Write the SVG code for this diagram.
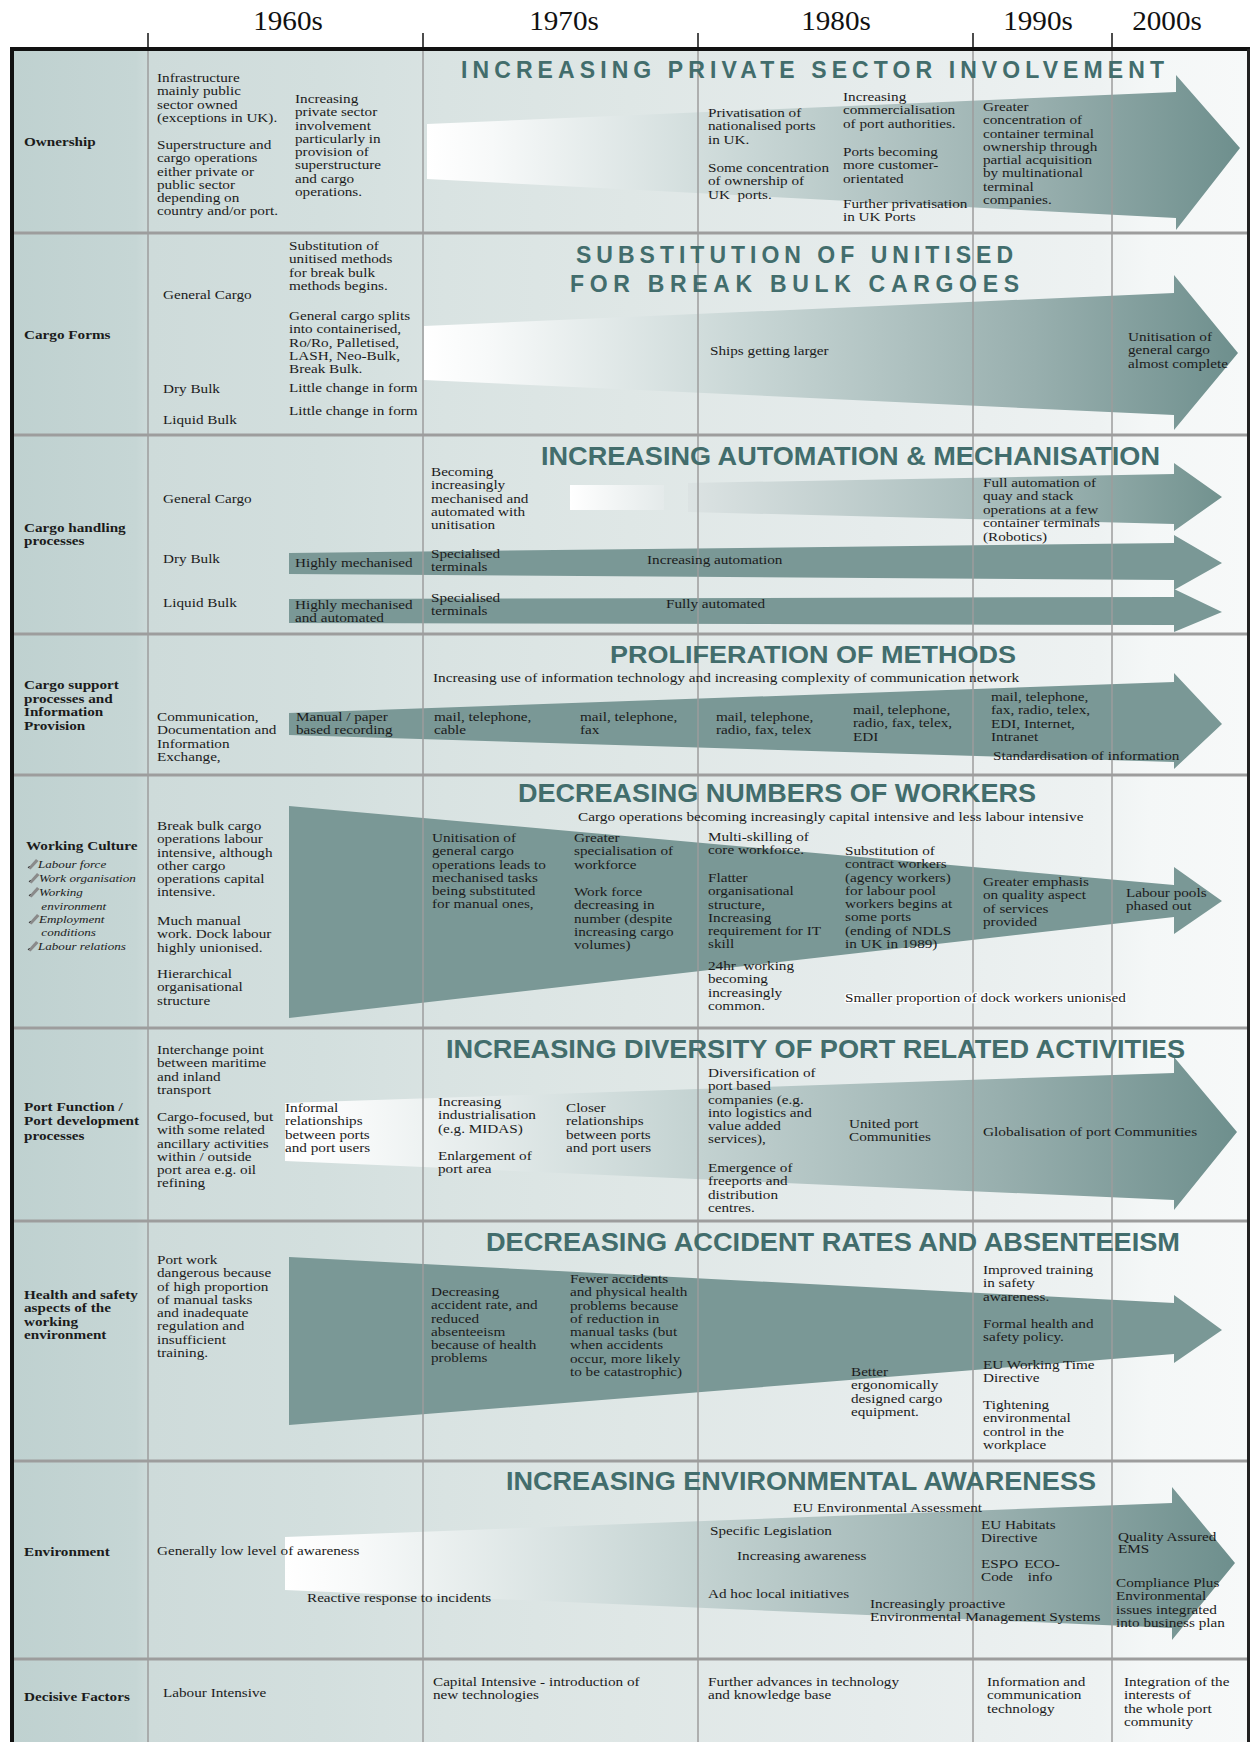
<svg xmlns="http://www.w3.org/2000/svg" width="1250" height="1742" viewBox="0 0 1250 1742">
<defs>
<style>
.t{font-family:"Liberation Serif","Times New Roman",serif;font-size:13px;fill:#1b1b1b}
.b{font-weight:bold}
.i{font-style:italic;font-size:11.2px}
.h{font-family:"Liberation Sans",Arial,sans-serif;font-weight:bold;fill:#426d6c}
.yr{font-family:"Liberation Serif","Times New Roman",serif;font-size:27px;fill:#111}
.grid{stroke:#9c9c9c;stroke-width:1.5}
.tick{stroke:#111;stroke-width:1.5}
.sep{stroke:#9d9d9d;stroke-width:3}
.solid{fill:#7a9896}
.fade{fill:url(#gfade)}
.halo{stroke:#ffffff;stroke-width:2.5;paint-order:stroke;stroke-linejoin:round}
</style>
<linearGradient id="bg" gradientUnits="userSpaceOnUse" x1="12" y1="0" x2="1248" y2="0">
<stop offset="0" stop-color="#bfd1d0"/>
<stop offset="0.1" stop-color="#c6d6d5"/>
<stop offset="0.112" stop-color="#cedbda"/>
<stop offset="0.25" stop-color="#d3dfde"/>
<stop offset="0.35" stop-color="#d9e3e2"/>
<stop offset="0.5" stop-color="#dfe7e6"/>
<stop offset="0.7" stop-color="#e6ecec"/>
<stop offset="0.88" stop-color="#eef2f2"/>
<stop offset="0.92" stop-color="#f4f7f7"/>
<stop offset="1" stop-color="#f7f9f9"/>
</linearGradient>
<linearGradient id="gfade" x1="0" y1="0" x2="1" y2="0">
<stop offset="0" stop-color="#ffffff"/>
<stop offset="0.08" stop-color="#f7f9f9"/>
<stop offset="0.4" stop-color="#c8d6d5"/>
<stop offset="0.75" stop-color="#98afae"/>
<stop offset="1" stop-color="#6e8f8d"/>
</linearGradient>
<linearGradient id="gfade2" x1="0" y1="0" x2="1" y2="0">
<stop offset="0" stop-color="#dce3e3"/>
<stop offset="0.6" stop-color="#a5bab9"/>
<stop offset="1" stop-color="#72928f"/>
</linearGradient>
<linearGradient id="gblock" x1="0" y1="0" x2="1" y2="0">
<stop offset="0" stop-color="#ffffff"/>
<stop offset="1" stop-color="#e4eaea"/>
</linearGradient>
<g id="pen"><path d="M0 0 L8 -9 L10.5 -7 L2.5 1.5 Z" fill="#8a8a8a"/><path d="M0 0 L1.5 -2" stroke="#333" stroke-width="1"/></g>
</defs>

<rect x="0" y="0" width="1250" height="1742" fill="#ffffff"/>
<rect id="background" x="12" y="50" width="1236" height="1692" fill="url(#bg)"/>

<g id="arrows">
<polygon class="fade" points="427,124 1176,92 1176,75 1240,148 1176,230 1176,218 427,179"/>
<polygon class="fade" points="424,326 1174,293 1174,275 1238,353 1174,430 1174,415 424,380"/>
<rect x="570" y="485" width="94" height="25" fill="url(#gblock)"/>
<polygon fill="url(#gfade2)" points="688,483 1174,474 1174,463 1222,497 1174,531 1174,524 688,512"/>
<polygon class="solid" points="289,553 1174,543 1174,535 1222,563 1174,590 1174,580 289,574"/>
<polygon class="solid" points="289,599 1174,597 1174,589 1222,612 1174,632 1174,625 289,623"/>
<polygon class="solid" points="289,713 1174,682 1174,673 1222,724 1174,769 1174,762 289,735"/>
<polygon class="solid" points="289,806 1174,885 1174,867 1222,901 1174,934 1174,917 289,1018"/>
<polygon class="fade" points="285,1103 1174,1073 1174,1057 1237,1132 1174,1210 1174,1200 285,1161"/>
<polygon class="solid" points="289,1257 1174,1303 1174,1295 1222,1330 1174,1363 1174,1354 289,1425"/>
<polygon class="fade" points="285,1537 1172,1503 1172,1487 1235,1563 1172,1640 1172,1628 285,1590"/>
</g>

<g id="grid">
<line class="tick" x1="148" y1="33" x2="148" y2="50"/>
<line class="tick" x1="423" y1="33" x2="423" y2="50"/>
<line class="tick" x1="698" y1="33" x2="698" y2="50"/>
<line class="tick" x1="973" y1="33" x2="973" y2="50"/>
<line class="tick" x1="1112" y1="33" x2="1112" y2="50"/>
<line class="grid" x1="148" y1="50" x2="148" y2="1742"/>
<line class="grid" x1="423" y1="50" x2="423" y2="1742"/>
<line class="grid" x1="698" y1="50" x2="698" y2="1742"/>
<line class="grid" x1="973" y1="50" x2="973" y2="1742"/>
<line class="grid" x1="1112" y1="50" x2="1112" y2="1742"/>
<line class="sep" x1="12" y1="233" x2="1248" y2="233"/>
<line class="sep" x1="12" y1="435" x2="1248" y2="435"/>
<line class="sep" x1="12" y1="634" x2="1248" y2="634"/>
<line class="sep" x1="12" y1="775" x2="1248" y2="775"/>
<line class="sep" x1="12" y1="1028" x2="1248" y2="1028"/>
<line class="sep" x1="12" y1="1221" x2="1248" y2="1221"/>
<line class="sep" x1="12" y1="1461" x2="1248" y2="1461"/>
<line class="sep" x1="12" y1="1659" x2="1248" y2="1659"/>
<line x1="10" y1="49" x2="1250" y2="49" stroke="#111" stroke-width="4"/>
<line x1="12" y1="47" x2="12" y2="1742" stroke="#111" stroke-width="4"/>
<line x1="1248.5" y1="49" x2="1248.5" y2="1742" stroke="#222" stroke-width="3"/>
</g>

<g id="header">
<g transform="translate(288 30) scale(1.08 1)"><text class="yr" text-anchor="middle" x="0" y="0">1960s</text></g>
<g transform="translate(564 30) scale(1.08 1)"><text class="yr" text-anchor="middle" x="0" y="0">1970s</text></g>
<g transform="translate(836 30) scale(1.08 1)"><text class="yr" text-anchor="middle" x="0" y="0">1980s</text></g>
<g transform="translate(1038 30) scale(1.08 1)"><text class="yr" text-anchor="middle" x="0" y="0">1990s</text></g>
<g transform="translate(1167 30) scale(1.08 1)"><text class="yr" text-anchor="middle" x="0" y="0">2000s</text></g>
</g>

<g id="row-ownership">
<text class="h" x="461" y="78" font-size="23" textLength="703" lengthAdjust="spacing">INCREASING PRIVATE SECTOR INVOLVEMENT</text>
<g transform="translate(24 146) scale(1.17 1)"><text class="t b">Ownership</text></g>
<g transform="translate(157 82) scale(1.17 1)"><text class="t"><tspan x="0" y="0">Infrastructure</tspan><tspan x="0" y="13.3">mainly public</tspan><tspan x="0" y="26.6">sector owned</tspan><tspan x="0" y="39.9">(exceptions in UK).</tspan></text></g>
<g transform="translate(157 149) scale(1.17 1)"><text class="t"><tspan x="0" y="0">Superstructure and</tspan><tspan x="0" y="13.3">cargo operations</tspan><tspan x="0" y="26.6">either private or</tspan><tspan x="0" y="39.9">public sector</tspan><tspan x="0" y="53.2">depending on</tspan><tspan x="0" y="66.5">country and/or port.</tspan></text></g>
<g transform="translate(295 103) scale(1.17 1)"><text class="t"><tspan x="0" y="0">Increasing</tspan><tspan x="0" y="13.3">private sector</tspan><tspan x="0" y="26.6">involvement</tspan><tspan x="0" y="39.9">particularly in</tspan><tspan x="0" y="53.2">provision of</tspan><tspan x="0" y="66.5">superstructure</tspan><tspan x="0" y="79.8">and cargo</tspan><tspan x="0" y="93.1">operations.</tspan></text></g>
<g transform="translate(708 117) scale(1.17 1)"><text class="t"><tspan x="0" y="0">Privatisation of</tspan><tspan x="0" y="13.3">nationalised ports</tspan><tspan x="0" y="26.6">in UK.</tspan></text></g>
<g transform="translate(708 172) scale(1.17 1)"><text class="t"><tspan x="0" y="0">Some concentration</tspan><tspan x="0" y="13.3">of ownership of</tspan><tspan x="0" y="26.6">UK&#160; ports.</tspan></text></g>
<g transform="translate(843 101) scale(1.17 1)"><text class="t"><tspan x="0" y="0">Increasing</tspan><tspan x="0" y="13.3">commercialisation</tspan><tspan x="0" y="26.6">of port authorities.</tspan></text></g>
<g transform="translate(843 156) scale(1.17 1)"><text class="t"><tspan x="0" y="0">Ports becoming</tspan><tspan x="0" y="13.3">more customer-</tspan><tspan x="0" y="26.6">orientated</tspan></text></g>
<g transform="translate(843 208) scale(1.17 1)"><text class="t"><tspan x="0" y="0">Further privatisation</tspan><tspan x="0" y="13.3">in UK Ports</tspan></text></g>
<g transform="translate(983 111) scale(1.17 1)"><text class="t"><tspan x="0" y="0">Greater</tspan><tspan x="0" y="13.3">concentration of</tspan><tspan x="0" y="26.6">container terminal</tspan><tspan x="0" y="39.9">ownership through</tspan><tspan x="0" y="53.2">partial acquisition</tspan><tspan x="0" y="66.5">by multinational</tspan><tspan x="0" y="79.8">terminal</tspan><tspan x="0" y="93.1">companies.</tspan></text></g>
</g>

<g id="row-cargo-forms">
<text class="h" x="576" y="263" font-size="23" textLength="437" lengthAdjust="spacing">SUBSTITUTION OF UNITISED</text>
<text class="h" x="570" y="292" font-size="23" textLength="449" lengthAdjust="spacing">FOR BREAK BULK CARGOES</text>
<g transform="translate(24 339) scale(1.17 1)"><text class="t b">Cargo Forms</text></g>
<g transform="translate(163 299) scale(1.17 1)"><text class="t">General Cargo</text></g>
<g transform="translate(163 393) scale(1.17 1)"><text class="t">Dry Bulk</text></g>
<g transform="translate(163 424) scale(1.17 1)"><text class="t">Liquid Bulk</text></g>
<g transform="translate(289 250) scale(1.17 1)"><text class="t"><tspan x="0" y="0">Substitution of</tspan><tspan x="0" y="13.3">unitised methods</tspan><tspan x="0" y="26.6">for break bulk</tspan><tspan x="0" y="39.9">methods begins.</tspan></text></g>
<g transform="translate(289 320) scale(1.17 1)"><text class="t"><tspan x="0" y="0">General cargo splits</tspan><tspan x="0" y="13.3">into containerised,</tspan><tspan x="0" y="26.6">Ro/Ro, Palletised,</tspan><tspan x="0" y="39.9">LASH, Neo-Bulk,</tspan><tspan x="0" y="53.2">Break Bulk.</tspan></text></g>
<g transform="translate(289 392) scale(1.17 1)"><text class="t">Little change in form</text></g>
<g transform="translate(289 415) scale(1.17 1)"><text class="t">Little change in form</text></g>
<g transform="translate(710 355) scale(1.17 1)"><text class="t">Ships getting larger</text></g>
<g transform="translate(1128 341) scale(1.17 1)"><text class="t"><tspan x="0" y="0">Unitisation of</tspan><tspan x="0" y="13.3">general cargo</tspan><tspan x="0" y="26.6">almost complete</tspan></text></g>
</g>

<g id="row-cargo-handling">
<text class="h" x="541" y="465" font-size="25" textLength="619" lengthAdjust="spacingAndGlyphs">INCREASING AUTOMATION &amp; MECHANISATION</text>
<g transform="translate(24 532) scale(1.17 1)"><text class="t b"><tspan x="0" y="0">Cargo handling</tspan><tspan x="0" y="13.3">processes</tspan></text></g>
<g transform="translate(163 503) scale(1.17 1)"><text class="t">General Cargo</text></g>
<g transform="translate(163 563) scale(1.17 1)"><text class="t">Dry Bulk</text></g>
<g transform="translate(163 607) scale(1.17 1)"><text class="t">Liquid Bulk</text></g>
<g transform="translate(431 476) scale(1.17 1)"><text class="t"><tspan x="0" y="0">Becoming</tspan><tspan x="0" y="13.3">increasingly</tspan><tspan x="0" y="26.6">mechanised and</tspan><tspan x="0" y="39.9">automated with</tspan><tspan x="0" y="53.2">unitisation</tspan></text></g>
<g transform="translate(295 567) scale(1.17 1)"><text class="t">Highly mechanised</text></g>
<g transform="translate(295 609) scale(1.17 1)"><text class="t"><tspan x="0" y="0">Highly mechanised</tspan><tspan x="0" y="13">and automated</tspan></text></g>
<g transform="translate(431 558) scale(1.17 1)"><text class="t"><tspan x="0" y="0">Specialised</tspan><tspan x="0" y="13.3">terminals</tspan></text></g>
<g transform="translate(431 602) scale(1.17 1)"><text class="t"><tspan x="0" y="0">Specialised</tspan><tspan x="0" y="13.3">terminals</tspan></text></g>
<g transform="translate(647 564) scale(1.17 1)"><text class="t">Increasing automation</text></g>
<g transform="translate(666 608) scale(1.17 1)"><text class="t">Fully automated</text></g>
<g transform="translate(983 487) scale(1.17 1)"><text class="t"><tspan x="0" y="0">Full automation of</tspan><tspan x="0" y="13.5">quay and stack</tspan><tspan x="0" y="27">operations at a few</tspan><tspan x="0" y="40.5">container terminals</tspan><tspan x="0" y="54">(Robotics)</tspan></text></g>
</g>

<g id="row-cargo-support">
<text class="h" x="610" y="663" font-size="24" textLength="406" lengthAdjust="spacingAndGlyphs">PROLIFERATION OF METHODS</text>
<g transform="translate(433 682) scale(1.17 1)"><text class="t" textLength="501" lengthAdjust="spacingAndGlyphs">Increasing use of information technology and increasing complexity of communication network</text></g>
<g transform="translate(24 689) scale(1.17 1)"><text class="t b"><tspan x="0" y="0">Cargo support</tspan><tspan x="0" y="13.6">processes and</tspan><tspan x="0" y="27.2">Information</tspan><tspan x="0" y="40.8">Provision</tspan></text></g>
<g transform="translate(157 721) scale(1.17 1)"><text class="t"><tspan x="0" y="0">Communication,</tspan><tspan x="0" y="13.3">Documentation and</tspan><tspan x="0" y="26.6">Information</tspan><tspan x="0" y="39.9">Exchange,</tspan></text></g>
<g transform="translate(296 721) scale(1.17 1)"><text class="t"><tspan x="0" y="0">Manual / paper</tspan><tspan x="0" y="13.3">based recording</tspan></text></g>
<g transform="translate(434 721) scale(1.17 1)"><text class="t"><tspan x="0" y="0">mail, telephone,</tspan><tspan x="0" y="13.3">cable</tspan></text></g>
<g transform="translate(580 721) scale(1.17 1)"><text class="t"><tspan x="0" y="0">mail, telephone,</tspan><tspan x="0" y="13.3">fax</tspan></text></g>
<g transform="translate(716 721) scale(1.17 1)"><text class="t"><tspan x="0" y="0">mail, telephone,</tspan><tspan x="0" y="13.3">radio, fax, telex</tspan></text></g>
<g transform="translate(853 714) scale(1.17 1)"><text class="t"><tspan x="0" y="0">mail, telephone,</tspan><tspan x="0" y="13.3">radio, fax, telex,</tspan><tspan x="0" y="26.6">EDI</tspan></text></g>
<g transform="translate(991 701) scale(1.17 1)"><text class="t"><tspan x="0" y="0">mail, telephone,</tspan><tspan x="0" y="13.3">fax, radio, telex,</tspan><tspan x="0" y="26.6">EDI, Internet,</tspan><tspan x="0" y="39.9">Intranet</tspan></text></g>
<g transform="translate(993 760) scale(1.17 1)"><text class="t">Standardisation of information</text></g>
</g>

<g id="row-working-culture">
<text class="h" x="518" y="802" font-size="25" textLength="518" lengthAdjust="spacingAndGlyphs">DECREASING NUMBERS OF WORKERS</text>
<g transform="translate(578 821) scale(1.17 1)"><text class="t" textLength="432" lengthAdjust="spacingAndGlyphs">Cargo operations becoming increasingly capital intensive and less labour intensive</text></g>
<g transform="translate(26 850) scale(1.17 1)"><text class="t b">Working Culture</text></g>
<use href="#pen" transform="translate(28 868)"/>
<use href="#pen" transform="translate(29 882)"/>
<use href="#pen" transform="translate(29 896)"/>
<use href="#pen" transform="translate(29 923)"/>
<use href="#pen" transform="translate(28 950)"/>
<g transform="translate(38 868) scale(1.17 1)"><text class="t i">Labour force</text></g>
<g transform="translate(39 882) scale(1.17 1)"><text class="t i">Work organisation</text></g>
<g transform="translate(39 896) scale(1.17 1)"><text class="t i"><tspan x="0" y="0">Working</tspan><tspan x="2" y="14">environment</tspan></text></g>
<g transform="translate(39 923) scale(1.17 1)"><text class="t i"><tspan x="0" y="0">Employment</tspan><tspan x="2" y="13">conditions</tspan></text></g>
<g transform="translate(38 950) scale(1.17 1)"><text class="t i">Labour relations</text></g>
<g transform="translate(157 830) scale(1.17 1)"><text class="t"><tspan x="0" y="0">Break bulk cargo</tspan><tspan x="0" y="13.3">operations labour</tspan><tspan x="0" y="26.6">intensive, although</tspan><tspan x="0" y="39.9">other cargo</tspan><tspan x="0" y="53.2">operations capital</tspan><tspan x="0" y="66.5">intensive.</tspan></text></g>
<g transform="translate(157 925) scale(1.17 1)"><text class="t"><tspan x="0" y="0">Much manual</tspan><tspan x="0" y="13.3">work. Dock labour</tspan><tspan x="0" y="26.6">highly unionised.</tspan></text></g>
<g transform="translate(157 978) scale(1.17 1)"><text class="t"><tspan x="0" y="0">Hierarchical</tspan><tspan x="0" y="13.3">organisational</tspan><tspan x="0" y="26.6">structure</tspan></text></g>
<g transform="translate(432 842) scale(1.17 1)"><text class="t"><tspan x="0" y="0">Unitisation of</tspan><tspan x="0" y="13.3">general cargo</tspan><tspan x="0" y="26.6">operations leads to</tspan><tspan x="0" y="39.9">mechanised tasks</tspan><tspan x="0" y="53.2">being substituted</tspan><tspan x="0" y="66.5">for manual ones,</tspan></text></g>
<g transform="translate(574 842) scale(1.17 1)"><text class="t"><tspan x="0" y="0">Greater</tspan><tspan x="0" y="13.3">specialisation of</tspan><tspan x="0" y="26.6">workforce</tspan></text></g>
<g transform="translate(574 896) scale(1.17 1)"><text class="t"><tspan x="0" y="0">Work force</tspan><tspan x="0" y="13.3">decreasing in</tspan><tspan x="0" y="26.6">number (despite</tspan><tspan x="0" y="39.9">increasing cargo</tspan><tspan x="0" y="53.2">volumes)</tspan></text></g>
<g transform="translate(708 841) scale(1.17 1)"><text class="t"><tspan x="0" y="0">Multi-skilling of</tspan><tspan x="0" y="13.3">core workforce.</tspan></text></g>
<g transform="translate(708 882) scale(1.17 1)"><text class="t"><tspan x="0" y="0">Flatter</tspan><tspan x="0" y="13.3">organisational</tspan><tspan x="0" y="26.6">structure,</tspan><tspan x="0" y="39.9">Increasing</tspan><tspan x="0" y="53.2">requirement for IT</tspan><tspan x="0" y="66.5">skill</tspan></text></g>
<g transform="translate(708 970) scale(1.17 1)"><text class="t"><tspan x="0" y="0">24hr&#160; working</tspan><tspan x="0" y="13.3">becoming</tspan><tspan x="0" y="26.6">increasingly</tspan><tspan x="0" y="39.9">common.</tspan></text></g>
<g transform="translate(845 855) scale(1.17 1)"><text class="t"><tspan x="0" y="0">Substitution of</tspan><tspan x="0" y="13.3">contract workers</tspan><tspan x="0" y="26.6">(agency workers)</tspan><tspan x="0" y="39.9">for labour pool</tspan><tspan x="0" y="53.2">workers begins at</tspan><tspan x="0" y="66.5">some ports</tspan><tspan x="0" y="79.8">(ending of NDLS</tspan><tspan x="0" y="93.1">in UK in 1989)</tspan></text></g>
<g transform="translate(845 1002) scale(1.17 1)"><text class="t halo" textLength="240" lengthAdjust="spacingAndGlyphs">Smaller proportion of dock workers unionised</text></g>
<g transform="translate(983 886) scale(1.17 1)"><text class="t"><tspan x="0" y="0">Greater emphasis</tspan><tspan x="0" y="13.3">on quality aspect</tspan><tspan x="0" y="26.6">of services</tspan><tspan x="0" y="39.9">provided</tspan></text></g>
<g transform="translate(1126 897) scale(1.17 1)"><text class="t"><tspan x="0" y="0">Labour pools</tspan><tspan x="0" y="13.3">phased out</tspan></text></g>
</g>

<g id="row-port-function">
<text class="h" x="446" y="1058" font-size="25" textLength="739" lengthAdjust="spacingAndGlyphs">INCREASING DIVERSITY OF PORT RELATED ACTIVITIES</text>
<g transform="translate(24 1111) scale(1.17 1)"><text class="t b"><tspan x="0" y="0">Port Function /</tspan><tspan x="0" y="14.5">Port development</tspan><tspan x="0" y="29">processes</tspan></text></g>
<g transform="translate(157 1054) scale(1.17 1)"><text class="t"><tspan x="0" y="0">Interchange point</tspan><tspan x="0" y="13.3">between maritime</tspan><tspan x="0" y="26.6">and inland</tspan><tspan x="0" y="39.9">transport</tspan></text></g>
<g transform="translate(157 1121) scale(1.17 1)"><text class="t"><tspan x="0" y="0">Cargo-focused, but</tspan><tspan x="0" y="13.3">with some related</tspan><tspan x="0" y="26.6">ancillary activities</tspan><tspan x="0" y="39.9">within / outside</tspan><tspan x="0" y="53.2">port area e.g. oil</tspan><tspan x="0" y="66.5">refining</tspan></text></g>
<g transform="translate(285 1112) scale(1.17 1)"><text class="t"><tspan x="0" y="0">Informal</tspan><tspan x="0" y="13.3">relationships</tspan><tspan x="0" y="26.6">between ports</tspan><tspan x="0" y="39.9">and port users</tspan></text></g>
<g transform="translate(438 1106) scale(1.17 1)"><text class="t"><tspan x="0" y="0">Increasing</tspan><tspan x="0" y="13.3">industrialisation</tspan><tspan x="0" y="26.6">(e.g. MIDAS)</tspan></text></g>
<g transform="translate(438 1160) scale(1.17 1)"><text class="t"><tspan x="0" y="0">Enlargement of</tspan><tspan x="0" y="13.3">port area</tspan></text></g>
<g transform="translate(566 1112) scale(1.17 1)"><text class="t"><tspan x="0" y="0">Closer</tspan><tspan x="0" y="13.3">relationships</tspan><tspan x="0" y="26.6">between ports</tspan><tspan x="0" y="39.9">and port users</tspan></text></g>
<g transform="translate(708 1077) scale(1.17 1)"><text class="t"><tspan x="0" y="0">Diversification of</tspan><tspan x="0" y="13.3">port based</tspan><tspan x="0" y="26.6">companies (e.g.</tspan><tspan x="0" y="39.9">into logistics and</tspan><tspan x="0" y="53.2">value added</tspan><tspan x="0" y="66.5">services),</tspan></text></g>
<g transform="translate(708 1172) scale(1.17 1)"><text class="t"><tspan x="0" y="0">Emergence of</tspan><tspan x="0" y="13.3">freeports and</tspan><tspan x="0" y="26.6">distribution</tspan><tspan x="0" y="39.9">centres.</tspan></text></g>
<g transform="translate(849 1128) scale(1.17 1)"><text class="t"><tspan x="0" y="0">United port</tspan><tspan x="0" y="13.3">Communities</tspan></text></g>
<g transform="translate(983 1136) scale(1.17 1)"><text class="t" textLength="183" lengthAdjust="spacingAndGlyphs">Globalisation of port Communities</text></g>
</g>

<g id="row-health-safety">
<text class="h" x="486" y="1251" font-size="25" textLength="694" lengthAdjust="spacingAndGlyphs">DECREASING ACCIDENT RATES AND ABSENTEEISM</text>
<g transform="translate(24 1299) scale(1.17 1)"><text class="t b"><tspan x="0" y="0">Health and safety</tspan><tspan x="0" y="13.3">aspects of the</tspan><tspan x="0" y="26.6">working</tspan><tspan x="0" y="39.9">environment</tspan></text></g>
<g transform="translate(157 1264) scale(1.17 1)"><text class="t"><tspan x="0" y="0">Port work</tspan><tspan x="0" y="13.3">dangerous because</tspan><tspan x="0" y="26.6">of high proportion</tspan><tspan x="0" y="39.9">of manual tasks</tspan><tspan x="0" y="53.2">and inadequate</tspan><tspan x="0" y="66.5">regulation and</tspan><tspan x="0" y="79.8">insufficient</tspan><tspan x="0" y="93.1">training.</tspan></text></g>
<g transform="translate(431 1296) scale(1.17 1)"><text class="t"><tspan x="0" y="0">Decreasing</tspan><tspan x="0" y="13.3">accident rate, and</tspan><tspan x="0" y="26.6">reduced</tspan><tspan x="0" y="39.9">absenteeism</tspan><tspan x="0" y="53.2">because of health</tspan><tspan x="0" y="66.5">problems</tspan></text></g>
<g transform="translate(570 1283) scale(1.17 1)"><text class="t"><tspan x="0" y="0">Fewer accidents</tspan><tspan x="0" y="13.3">and physical health</tspan><tspan x="0" y="26.6">problems because</tspan><tspan x="0" y="39.9">of reduction in</tspan><tspan x="0" y="53.2">manual tasks (but</tspan><tspan x="0" y="66.5">when accidents</tspan><tspan x="0" y="79.8">occur, more likely</tspan><tspan x="0" y="93.1">to be catastrophic)</tspan></text></g>
<g transform="translate(851 1376) scale(1.17 1)"><text class="t"><tspan x="0" y="0">Better</tspan><tspan x="0" y="13.3">ergonomically</tspan><tspan x="0" y="26.6">designed cargo</tspan><tspan x="0" y="39.9">equipment.</tspan></text></g>
<g transform="translate(983 1274) scale(1.17 1)"><text class="t"><tspan x="0" y="0">Improved training</tspan><tspan x="0" y="13.3">in safety</tspan><tspan x="0" y="26.6">awareness.</tspan></text></g>
<g transform="translate(983 1328) scale(1.17 1)"><text class="t"><tspan x="0" y="0">Formal health and</tspan><tspan x="0" y="13.3">safety policy.</tspan></text></g>
<g transform="translate(983 1369) scale(1.17 1)"><text class="t"><tspan x="0" y="0">EU Working Time</tspan><tspan x="0" y="13.3">Directive</tspan></text></g>
<g transform="translate(983 1409) scale(1.17 1)"><text class="t"><tspan x="0" y="0">Tightening</tspan><tspan x="0" y="13.3">environmental</tspan><tspan x="0" y="26.6">control in the</tspan><tspan x="0" y="39.9">workplace</tspan></text></g>
</g>

<g id="row-environment">
<text class="h" x="506" y="1490" font-size="25" textLength="590" lengthAdjust="spacingAndGlyphs">INCREASING ENVIRONMENTAL AWARENESS</text>
<g transform="translate(24 1556) scale(1.17 1)"><text class="t b">Environment</text></g>
<g transform="translate(157 1555) scale(1.17 1)"><text class="t">Generally low level of awareness</text></g>
<g transform="translate(307 1602) scale(1.17 1)"><text class="t">Reactive response to incidents</text></g>
<g transform="translate(793 1512) scale(1.17 1)"><text class="t">EU Environmental Assessment</text></g>
<g transform="translate(710 1535) scale(1.17 1)"><text class="t">Specific Legislation</text></g>
<g transform="translate(737 1560) scale(1.17 1)"><text class="t">Increasing awareness</text></g>
<g transform="translate(708 1598) scale(1.17 1)"><text class="t">Ad hoc local initiatives</text></g>
<g transform="translate(870 1608) scale(1.17 1)"><text class="t"><tspan x="0" y="0">Increasingly proactive</tspan><tspan x="0" y="13" textLength="197" lengthAdjust="spacingAndGlyphs">Environmental Management Systems</tspan></text></g>
<g transform="translate(981 1529) scale(1.17 1)"><text class="t"><tspan x="0" y="0">EU Habitats</tspan><tspan x="0" y="13.3">Directive</tspan></text></g>
<g transform="translate(981 1568) scale(1.17 1)"><text class="t"><tspan x="0" y="0">ESPO</tspan><tspan x="37" y="0">ECO-</tspan><tspan x="0" y="13.3">Code</tspan><tspan x="40" y="13.3">info</tspan></text></g>
<g transform="translate(1118 1541) scale(1.17 1)"><text class="t"><tspan x="0" y="0">Quality Assured</tspan><tspan x="0" y="12">EMS</tspan></text></g>
<g transform="translate(1116 1587) scale(1.17 1)"><text class="t"><tspan x="0" y="0">Compliance Plus</tspan><tspan x="0" y="13.3">Environmental</tspan><tspan x="0" y="26.6">issues integrated</tspan><tspan x="0" y="39.9">into business plan</tspan></text></g>
</g>

<g id="row-decisive-factors">
<g transform="translate(24 1701) scale(1.17 1)"><text class="t b">Decisive Factors</text></g>
<g transform="translate(163 1697) scale(1.17 1)"><text class="t">Labour Intensive</text></g>
<g transform="translate(433 1686) scale(1.17 1)"><text class="t"><tspan x="0" y="0">Capital Intensive - introduction of</tspan><tspan x="0" y="13.3">new technologies</tspan></text></g>
<g transform="translate(708 1686) scale(1.17 1)"><text class="t"><tspan x="0" y="0">Further advances in technology</tspan><tspan x="0" y="13.3">and knowledge base</tspan></text></g>
<g transform="translate(987 1686) scale(1.17 1)"><text class="t"><tspan x="0" y="0">Information and</tspan><tspan x="0" y="13.3">communication</tspan><tspan x="0" y="26.6">technology</tspan></text></g>
<g transform="translate(1124 1686) scale(1.17 1)"><text class="t"><tspan x="0" y="0">Integration of the</tspan><tspan x="0" y="13.3">interests of</tspan><tspan x="0" y="26.6">the whole port</tspan><tspan x="0" y="39.9">community</tspan></text></g>
</g>
</svg>
